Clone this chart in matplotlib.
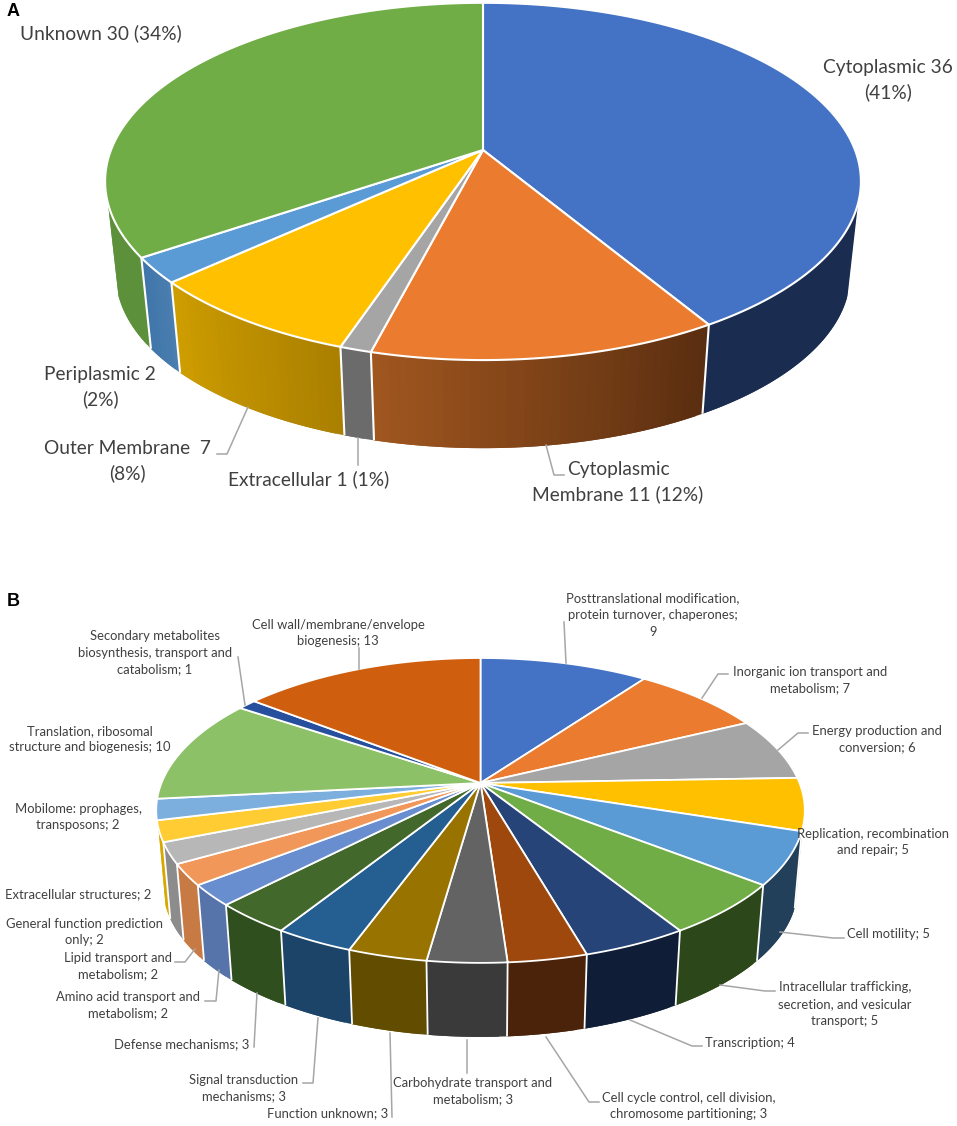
import numpy as np
import matplotlib
matplotlib.use("Agg")
import matplotlib.pyplot as plt
from matplotlib.collections import PolyCollection
from matplotlib.colors import to_rgb

plt.rcParams["font.family"] = ["Lato", "DejaVu Sans"]

# Panel A data
a_values = [36, 11, 1, 7, 2, 30]
a_top = ["#4472C4", "#EB7B2E", "#A5A5A5", "#FFC000", "#5B9BD5", "#70AD47"]
a_side_start = ["#1A2C4F", "#5A2E10", "#6B6B6B", "#AB8000", "#4A7DB0", "#5D903B"]
a_side_end   = ["#1A2C4F", "#A0561F", "#6B6B6B", "#CE9D00", "#4076AA", "#5D903B"]
a_labels = ["Cytoplasmic 36\n(41%)", "Cytoplasmic\nMembrane 11 (12%)", "Extracellular 1 (1%)",
            "Outer Membrane  7\n(8%)", "Periplasmic 2\n(2%)", "Unknown 30 (34%)"]
a_label_pos = [(888, 80), (618, 482), (309, 479), (127, 461), (100, 387), (101, 33)]
a_leaders = [[(546, 445), (554, 475), (564, 475)],
             [(248, 407), (227, 454), (217, 454)],
             [(358, 438), (358, 465)]]

# Panel B data
b_values = [9, 7, 6, 5, 5, 5, 4, 3, 3, 3, 3, 3, 2, 2, 2, 2, 2, 10, 1, 13]
b_top = ["#4472C4", "#EB7B2E", "#A5A5A5", "#FFC000", "#5B9BD5", "#70AD47", "#264478",
         "#9E480E", "#636363", "#997300", "#255E91", "#43682B", "#698ED0", "#F1975A",
         "#B7B7B7", "#FFCD33", "#7CAFDD", "#8CC168", "#264F9E", "#CF5F0E"]
b_side = ["#2A4478", "#8F4A1C", "#636363", "#997300", "#22405A", "#2C4719", "#0F1E36",
          "#4A230A", "#3A3A3A", "#614C00", "#1B4468", "#2F4F1E", "#5674AA", "#C87A45",
          "#8C8C8C", "#D9A800", "#6090C0", "#6C9A4C", "#1E3C78", "#9A4A0C"]
b_labels = ["Posttranslational modification,\nprotein turnover, chaperones;\n9",
            "Inorganic ion transport and\nmetabolism; 7",
            "Energy production and\nconversion; 6",
            "Replication, recombination\nand repair; 5",
            "Cell motility; 5",
            "Intracellular trafficking,\nsecretion, and vesicular\ntransport; 5",
            "Transcription; 4",
            "Cell cycle control, cell division,\nchromosome partitioning; 3",
            "Carbohydrate transport and\nmetabolism; 3",
            "Function unknown; 3",
            "Signal transduction\nmechanisms; 3",
            "Defense mechanisms; 3",
            "Amino acid transport and\nmetabolism; 2",
            "Lipid transport and\nmetabolism; 2",
            "General function prediction\nonly; 2",
            "Extracellular structures; 2",
            "Mobilome: prophages,\ntransposons; 2",
            "Translation, ribosomal\nstructure and biogenesis; 10",
            "Secondary metabolites\nbiosynthesis, transport and\ncatabolism; 1",
            "Cell wall/membrane/envelope\nbiogenesis; 13"]
b_label_pos = [(653, 615), (810, 680), (877, 739), (873, 842), (888, 934), (845, 1004),
               (750, 1043), (689, 1106), (473, 1091), (328, 1113), (244, 1088), (182, 1044),
               (128, 1005), (118, 966), (84, 932), (78, 817 + 77), (78, 817), (90, 739), (155, 653),
               (338, 633)]
b_leaders = [[(564, 622), (566, 663)],
             [(728, 674), (718, 674), (702, 698)],
             [(808, 733), (798, 733), (778, 750)],
             [(844, 938), (833, 938), (780, 932)],
             [(775, 991), (765, 991), (720, 985)],
             [(702, 1046), (692, 1046), (630, 1020)],
             [(599, 1102), (589, 1102), (546, 1037)],
             [(467, 1040), (467, 1073)],
             [(390, 1033), (392, 1117)],
             [(318, 1018), (313, 1083), (303, 1083)],
             [(257, 993), (254, 1047)],
             [(219, 970), (216, 1001), (205, 1001)],
             [(195, 949), (185, 962), (175, 962)],
             [(238, 657), (245, 705)],
             [(359, 648), (359, 669)]]

# the side wall only shows between these angles
SIDE_FROM = np.deg2rad(107)
SIDE_TO = np.deg2rad(253)


def rim(t, cx, cy, a, b, k, drop=0.0, scale=1.0):
    # perspective projection of a circle lying flat, t clockwise from the far side
    x, z = np.sin(t), np.cos(t)
    w = 1 + k * z
    return cx + scale * a * x / w, cy + drop - scale * b * z / w


def pie3d(ax, values, top, side_start, side_end, cx, cy, a, b, k, drop, scale, lw):
    edges = np.cumsum([0] + list(values)) / sum(values) * 2 * np.pi

    for i in range(len(values)):
        lo, hi = max(edges[i], SIDE_FROM), min(edges[i + 1], SIDE_TO)
        if hi <= lo:
            continue
        n = max(int((hi - lo) / 0.02), 2)
        t = np.linspace(lo, hi, n + 1)
        tx, ty = rim(t, cx, cy, a, b, k)
        bx, by = rim(t, cx, cy, a, b, k, drop, scale)
        c0, c1 = np.array(to_rgb(side_start[i])), np.array(to_rgb(side_end[i]))
        quads, cols = [], []
        for j in range(n):
            # each strip runs under the next one so no seams show
            e = min(j + 2, n)
            quads.append([(tx[j], ty[j]), (tx[e], ty[e]), (bx[e], by[e]), (bx[j], by[j])])
            cols.append(c0 + (c1 - c0) * j / max(n - 1, 1))
        ax.add_collection(PolyCollection(quads, facecolors=cols, edgecolors="none", zorder=1))

    for e in edges[:-1]:
        if SIDE_FROM < e < SIDE_TO:
            tx, ty = rim(e, cx, cy, a, b, k)
            bx, by = rim(e, cx, cy, a, b, k, drop, scale)
            ax.plot([tx, bx], [ty, by], color="white", lw=lw, zorder=2, solid_capstyle="butt")

    for i in range(len(values)):
        t = np.linspace(edges[i], edges[i + 1], 200)
        tx, ty = rim(t, cx, cy, a, b, k)
        xy = np.column_stack([np.r_[cx, tx], np.r_[cy, ty]])
        ax.fill(xy[:, 0], xy[:, 1], facecolor=top[i], edgecolor="white", lw=lw, zorder=3, joinstyle="round")


def leaders(ax, paths):
    for p in paths:
        ax.plot(*zip(*p), color="#A6A6A6", lw=1.1, zorder=4)


fig = plt.figure(figsize=(9.57, 11.26), dpi=100)
ax = fig.add_axes([0, 0, 1, 1])
ax.set_xlim(0, 957)
ax.set_ylim(1126, 0)
ax.axis("off")

pie3d(ax, a_values, a_top, a_side_start, a_side_end,
      483, 150, 372, 173.1, 0.176, 94, 0.972, 1.5)
pie3d(ax, b_values, b_top, b_side, b_side,
      480.5, 783, 319, 147.5, 0.18, 78, 0.978, 1.3)

leaders(ax, a_leaders)
leaders(ax, b_leaders)

for txt, (x, y) in zip(a_labels, a_label_pos):
    ax.text(x, y, txt, ha="center", va="center", fontsize=13.8, color="#404040",
            linespacing=1.5, zorder=5)
for txt, (x, y) in zip(b_labels, b_label_pos):
    ax.text(x, y, txt, ha="center", va="center", fontsize=9.4, color="#404040",
            linespacing=1.46, zorder=5)

ax.text(13, 11, "A", fontsize=13, fontweight="bold", family="Liberation Sans", va="center", ha="center")
ax.text(13, 602, "B", fontsize=13, fontweight="bold", family="Liberation Sans", va="center", ha="center")

plt.savefig("out.png", dpi=100)
